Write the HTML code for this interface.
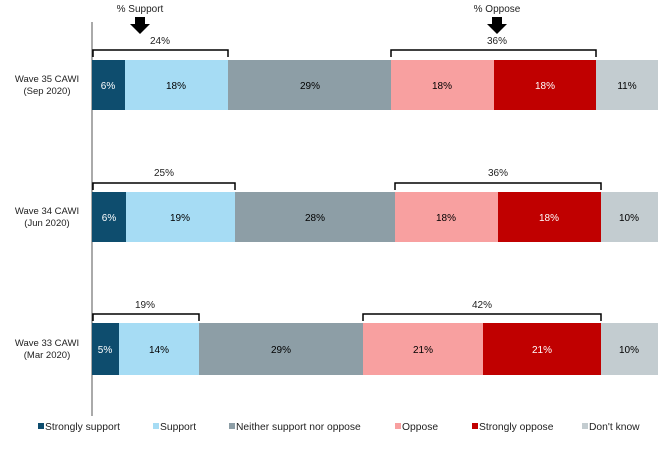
<!DOCTYPE html><html><head><style>body{margin:0;background:#fff}</style></head><body>
<svg width="672" height="445" xmlns="http://www.w3.org/2000/svg" font-family="Liberation Sans, sans-serif" font-size="10">
<line x1="92" y1="22" x2="92" y2="416" stroke="#555" stroke-width="1"/>
<g text-anchor="middle" fill="#222">
<text x="140" y="12">% Support</text>
<text x="497" y="12">% Oppose</text>
</g>
<path d="M135,17h10v7h5l-10,10l-10,-10h5z" fill="#000"/>
<path d="M492,17h10v7h5l-10,10l-10,-10h5z" fill="#000"/>
<g text-anchor="middle" font-size="10">
<rect x="92" y="60" width="33" height="50" fill="#0e4d6e"/><rect x="125" y="60" width="103" height="50" fill="#a6dcf4"/><rect x="228" y="60" width="163" height="50" fill="#8d9ea6"/><rect x="391" y="60" width="103" height="50" fill="#f8a0a0"/><rect x="494" y="60" width="102" height="50" fill="#c00000"/><rect x="596" y="60" width="62" height="50" fill="#c3ccd0"/>
<text x="108" y="89" fill="#fff">6%</text><text x="176" y="89">18%</text><text x="310" y="89">29%</text><text x="442" y="89">18%</text><text x="545" y="89" fill="#fff">18%</text><text x="627" y="89">11%</text>
<rect x="92" y="192" width="34" height="50" fill="#0e4d6e"/><rect x="126" y="192" width="109" height="50" fill="#a6dcf4"/><rect x="235" y="192" width="160" height="50" fill="#8d9ea6"/><rect x="395" y="192" width="103" height="50" fill="#f8a0a0"/><rect x="498" y="192" width="103" height="50" fill="#c00000"/><rect x="601" y="192" width="57" height="50" fill="#c3ccd0"/>
<text x="109" y="221" fill="#fff">6%</text><text x="180" y="221">19%</text><text x="315" y="221">28%</text><text x="446" y="221">18%</text><text x="549" y="221" fill="#fff">18%</text><text x="629" y="221">10%</text>
<rect x="92" y="323" width="27" height="52" fill="#0e4d6e"/><rect x="119" y="323" width="80" height="52" fill="#a6dcf4"/><rect x="199" y="323" width="164" height="52" fill="#8d9ea6"/><rect x="363" y="323" width="120" height="52" fill="#f8a0a0"/><rect x="483" y="323" width="118" height="52" fill="#c00000"/><rect x="601" y="323" width="57" height="52" fill="#c3ccd0"/>
<text x="105" y="353" fill="#fff">5%</text><text x="159" y="353">14%</text><text x="281" y="353">29%</text><text x="423" y="353">21%</text><text x="542" y="353" fill="#fff">21%</text><text x="629" y="353">10%</text>
</g>
<g fill="none" stroke="#000" stroke-width="1.5">
<path d="M93,57v-7h135v7M391,57v-7h205v7"/>
<path d="M93,190v-7h142v7M395,190v-7h206v7"/>
<path d="M93,321v-7h106v7M363,321v-7h238v7"/>
</g>
<g text-anchor="middle" fill="#222">
<text x="160" y="44">24%</text><text x="497" y="44">36%</text>
<text x="164" y="176">25%</text><text x="498" y="176">36%</text>
<text x="145" y="308">19%</text><text x="482" y="308">42%</text>
</g>
<g text-anchor="middle" font-size="9.5" fill="#222">
<text x="47" y="82">Wave 35 CAWI</text><text x="47" y="94">(Sep 2020)</text>
<text x="47" y="214">Wave 34 CAWI</text><text x="47" y="226">(Jun 2020)</text>
<text x="47" y="346">Wave 33 CAWI</text><text x="47" y="358">(Mar 2020)</text>
</g>
<g font-size="10.3" fill="#222">
<rect x="38" y="423" width="6" height="6" fill="#0e4d6e"/><text x="45" y="430">Strongly support</text>
<rect x="153" y="423" width="6" height="6" fill="#a6dcf4"/><text x="160" y="430">Support</text>
<rect x="229" y="423" width="6" height="6" fill="#8d9ea6"/><text x="236" y="430">Neither support nor oppose</text>
<rect x="395" y="423" width="6" height="6" fill="#f8a0a0"/><text x="402" y="430">Oppose</text>
<rect x="472" y="423" width="6" height="6" fill="#c00000"/><text x="479" y="430">Strongly oppose</text>
<rect x="582" y="423" width="6" height="6" fill="#c3ccd0"/><text x="589" y="430">Don't know</text>
</g>
</svg></body></html>
